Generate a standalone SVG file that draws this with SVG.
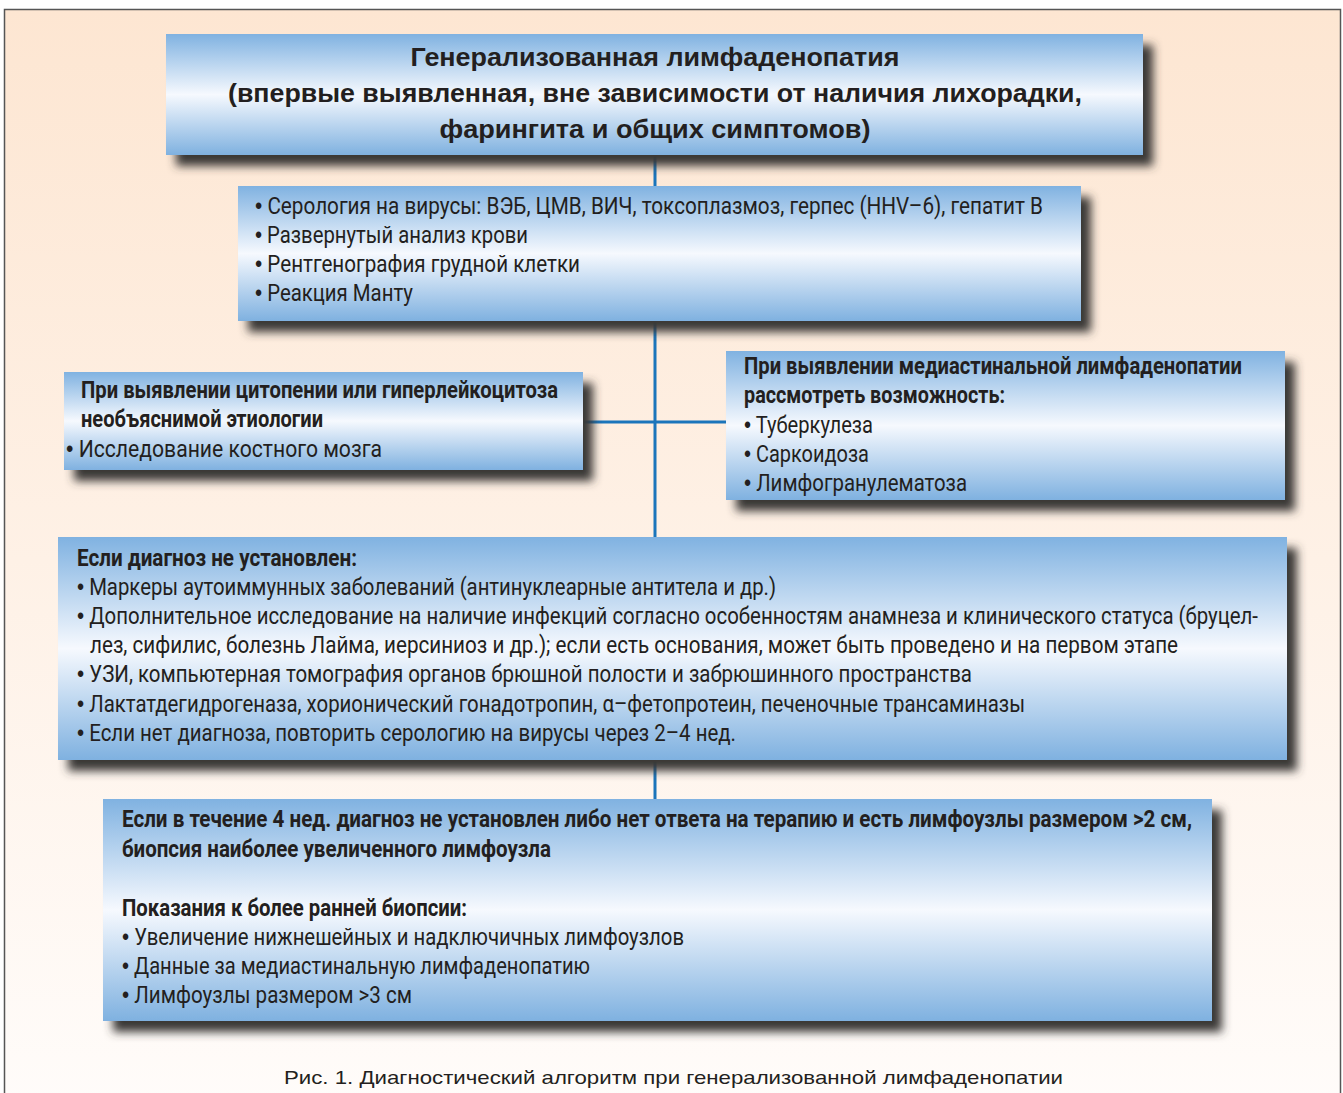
<svg xmlns="http://www.w3.org/2000/svg" width="1343" height="1093" viewBox="0 0 1343 1093">
<defs>
<linearGradient id="bg" x1="0" y1="0" x2="0" y2="1">
<stop offset="0" stop-color="#fde6d2"/>
<stop offset="1" stop-color="#fffcfa"/>
</linearGradient>
<linearGradient id="box" x1="0" y1="0" x2="0" y2="1">
<stop offset="0" stop-color="#80b2e1"/>
<stop offset="0.5" stop-color="#f6f9fe"/>
<stop offset="1" stop-color="#7fb1e0"/>
</linearGradient>
<filter id="sh" x="-5%" y="-10%" width="115%" height="135%">
<feGaussianBlur in="SourceAlpha" stdDeviation="5" result="b"/>
<feOffset in="b" dx="10" dy="11" result="o"/>
<feFlood flood-color="#3a3836" flood-opacity="1"/>
<feComposite in2="o" operator="in" result="s"/>
<feMerge><feMergeNode in="s"/><feMergeNode in="SourceGraphic"/></feMerge>
</filter>
<style>
.b{fill:url(#box);filter:url(#sh)}
.t{font-family:Roboto,"Liberation Sans",sans-serif;font-size:23px;fill:#231f20}
.tb{font-family:Roboto,"Liberation Sans",sans-serif;font-size:23px;font-weight:bold;fill:#231f20}
.u{font-family:"Liberation Sans",Arial,sans-serif}
.h{font-family:"Liberation Sans",Arial,sans-serif;font-size:25px;font-weight:bold;fill:#231f20;text-anchor:middle}
.c{stroke:#1b75bb;stroke-width:3;fill:none}
.cap{font-family:"Liberation Sans",Arial,sans-serif;font-size:19px;fill:#231f20}
</style>
</defs>
<rect x="4.5" y="9.5" width="1336" height="1100" fill="url(#bg)" stroke="#555" stroke-width="1.5"/>
<g id="connectors">
<line class="c" x1="655" y1="150" x2="655" y2="190"/>
<line class="c" x1="655" y1="318" x2="655" y2="540"/>
<line class="c" x1="580" y1="422" x2="730" y2="422"/>
<line class="c" x1="655" y1="755" x2="655" y2="802"/>
</g>
<g id="title">
<rect class="b" x="166" y="34" width="977" height="121"/>
<text class="h" x="655" y="66" textLength="489" lengthAdjust="spacingAndGlyphs">Генерализованная лимфаденопатия</text>
<text class="h" x="655" y="102" textLength="854" lengthAdjust="spacingAndGlyphs">(впервые выявленная, вне зависимости от наличия лихорадки,</text>
<text class="h" x="655" y="138" textLength="431" lengthAdjust="spacingAndGlyphs">фарингита и общих симптомов)</text>
</g>
<g id="tests">
<rect class="b" x="238" y="186" width="843" height="135"/>
<text class="t" x="255" y="214" textLength="788" lengthAdjust="spacingAndGlyphs"><tspan class="u">•</tspan> Серология на вирусы: ВЭБ, ЦМВ, ВИЧ, токсоплазмоз, герпес (HHV–6), гепатит В</text>
<text class="t" x="255" y="243" textLength="273" lengthAdjust="spacingAndGlyphs"><tspan class="u">•</tspan> Развернутый анализ крови</text>
<text class="t" x="255" y="272" textLength="325" lengthAdjust="spacingAndGlyphs"><tspan class="u">•</tspan> Рентгенография грудной клетки</text>
<text class="t" x="255" y="301" textLength="158" lengthAdjust="spacingAndGlyphs"><tspan class="u">•</tspan> Реакция Манту</text>
</g>
<g id="cytopenia">
<rect class="b" x="64" y="372" width="519" height="98"/>
<text class="tb" x="81" y="398" textLength="477" lengthAdjust="spacingAndGlyphs">При выявлении цитопении или гиперлейкоцитоза</text>
<text class="tb" x="81" y="427" textLength="242" lengthAdjust="spacingAndGlyphs">необъяснимой этиологии</text>
<text class="t" x="66" y="457" textLength="316" lengthAdjust="spacingAndGlyphs"><tspan class="u">•</tspan> Исследование костного мозга</text>
</g>
<g id="mediastinal">
<rect class="b" x="726" y="351" width="559" height="149"/>
<text class="tb" x="744" y="374" textLength="498" lengthAdjust="spacingAndGlyphs">При выявлении медиастинальной лимфаденопатии</text>
<text class="tb" x="744" y="403" textLength="261" lengthAdjust="spacingAndGlyphs">рассмотреть возможность:</text>
<text class="t" x="744" y="433" textLength="129" lengthAdjust="spacingAndGlyphs"><tspan class="u">•</tspan> Туберкулеза</text>
<text class="t" x="744" y="462" textLength="125" lengthAdjust="spacingAndGlyphs"><tspan class="u">•</tspan> Саркоидоза</text>
<text class="t" x="744" y="491" textLength="223" lengthAdjust="spacingAndGlyphs"><tspan class="u">•</tspan> Лимфогранулематоза</text>
</g>
<g id="nodiagnosis">
<rect class="b" x="58" y="537" width="1229" height="223"/>
<text class="tb" x="77" y="566" textLength="280" lengthAdjust="spacingAndGlyphs">Если диагноз не установлен:</text>
<text class="t" x="77" y="595" textLength="699" lengthAdjust="spacingAndGlyphs"><tspan class="u">•</tspan> Маркеры аутоиммунных заболеваний (антинуклеарные антитела и др.)</text>
<text class="t" x="77" y="624" font-size="21" textLength="1181" lengthAdjust="spacingAndGlyphs"><tspan class="u">•</tspan> Дополнительное исследование на наличие инфекций согласно особенностям анамнеза и клинического статуса (бруцел-</text>
<text class="t" x="90" y="653" textLength="1088" lengthAdjust="spacingAndGlyphs">лез, сифилис, болезнь Лайма, иерсиниоз и др.); если есть основания, может быть проведено и на первом этапе</text>
<text class="t" x="77" y="682" textLength="895" lengthAdjust="spacingAndGlyphs"><tspan class="u">•</tspan> УЗИ, компьютерная томография органов брюшной полости и забрюшинного пространства</text>
<text class="t" x="77" y="712" textLength="948" lengthAdjust="spacingAndGlyphs"><tspan class="u">•</tspan> Лактатдегидрогеназа, хорионический гонадотропин, α–фетопротеин, печеночные трансаминазы</text>
<text class="t" x="77" y="741" textLength="659" lengthAdjust="spacingAndGlyphs"><tspan class="u">•</tspan> Если нет диагноза, повторить серологию на вирусы через 2–4 нед.</text>
</g>
<g id="biopsy">
<rect class="b" x="103" y="799" width="1109" height="222"/>
<text class="tb" x="122" y="827" textLength="1070" lengthAdjust="spacingAndGlyphs">Если в течение 4 нед. диагноз не установлен либо нет ответа на терапию и есть лимфоузлы размером &gt;2 см,</text>
<text class="tb" x="122" y="857" textLength="429" lengthAdjust="spacingAndGlyphs">биопсия наиболее увеличенного лимфоузла</text>
<text class="tb" x="122" y="916" textLength="345" lengthAdjust="spacingAndGlyphs">Показания к более ранней биопсии:</text>
<text class="t" x="122" y="945" textLength="562" lengthAdjust="spacingAndGlyphs"><tspan class="u">•</tspan> Увеличение нижнешейных и надключичных лимфоузлов</text>
<text class="t" x="122" y="974" textLength="468" lengthAdjust="spacingAndGlyphs"><tspan class="u">•</tspan> Данные за медиастинальную лимфаденопатию</text>
<text class="t" x="122" y="1003" textLength="290" lengthAdjust="spacingAndGlyphs"><tspan class="u">•</tspan> Лимфоузлы размером &gt;3 см</text>
</g>
<text class="cap" x="284" y="1084" textLength="779" lengthAdjust="spacingAndGlyphs">Рис. 1. Диагностический алгоритм при генерализованной лимфаденопатии</text>
</svg>
